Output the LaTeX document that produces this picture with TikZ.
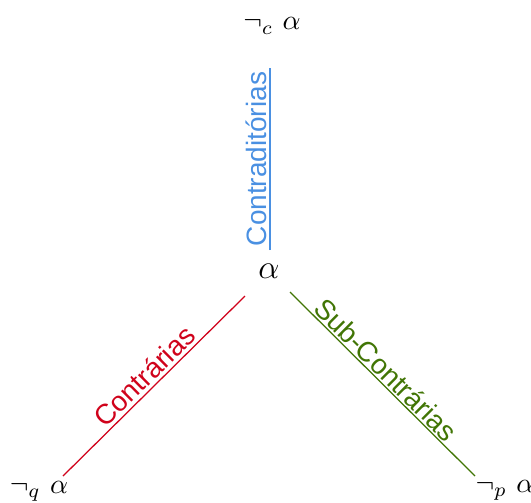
\documentclass[tikz,border=0pt]{standalone}
\usepackage{fontspec}
\setsansfont{Liberation Sans}
\definecolor{cblue}{HTML}{4A90E2}
\definecolor{cred}{HTML}{D0021B}
\definecolor{cgreen}{HTML}{417505}
\begin{document}
\begin{tikzpicture}[x=0.3571pt,y=-0.3571pt,
  term/.style={inner sep=0pt,outer sep=0pt},
  rel/.style={line width=0.45pt},
  lbl/.style={font=\sffamily,sloped,above,inner sep=1pt}]
\useasboundingbox (0,0) rectangle (531,502);
\node[term] (c) at (269,271) {\large$\alpha$};
\node[term] (t) at (272,26) {$\neg_c\ \alpha$};
\node[term] (l) at (39,491) {$\neg_q\ \alpha$};
\node[term] (r) at (505,490) {$\neg_p\ \alpha$};
\draw[rel,cblue]
  ([shift={(1,-21)}]c.center) -- node[lbl,cblue] {Contraditórias} ([shift={(-2,42)}]t.center);
\draw[rel,cred]
  ([shift={(-24,25)}]c.center) -- node[lbl,cred] {Contrárias} ([shift={(24,-15)}]l.center);
\draw[rel,cgreen]
  ([shift={(21,21)}]c.center) -- node[lbl,cgreen,pos=0.47,inner sep=0.6pt] {Sub-Contrárias} ([shift={(-30,-14)}]r.center);
\end{tikzpicture}
\end{document}
